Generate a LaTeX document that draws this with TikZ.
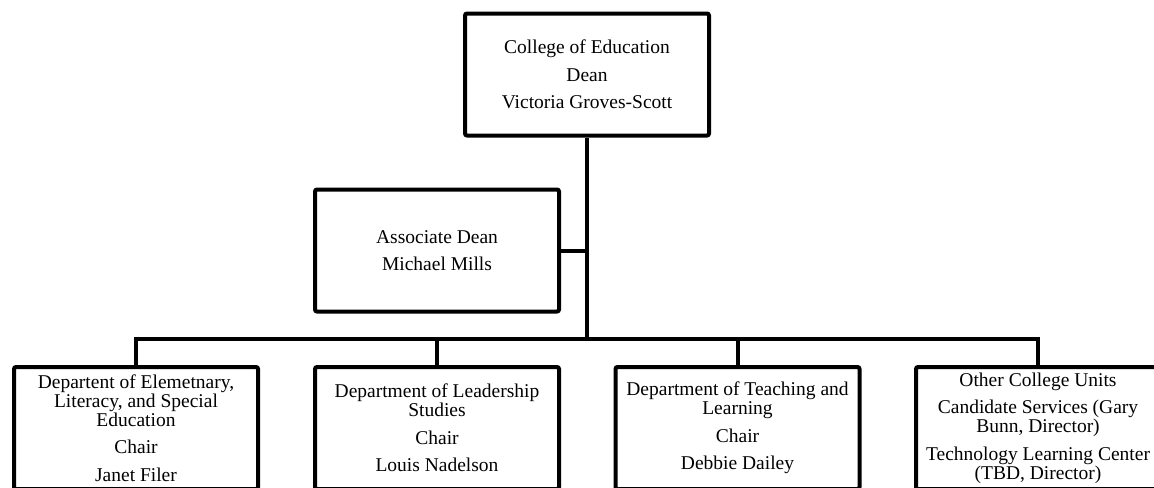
\documentclass[tikz,border=0pt]{standalone}
\usepackage{fontspec}
\setmainfont{Liberation Serif}
\usepackage{tikz}
\usetikzlibrary{positioning}
\tikzset{%
  unit/.style={rectangle, draw, line width=2pt, rounded corners=1pt, align=center,
    minimum width=122pt, minimum height=61pt, inner sep=2pt,
    font=\fontsize{9.75}{9.5}\selectfont},
  connector/.style={draw, line width=2pt}}

\begin{document}
\begin{tikzpicture}[x=0.5pt, y=-0.5pt]
    \useasboundingbox (0, 0) rectangle (1154, 487);
    \clip (0, 0) rectangle (1154, 487);
    % dean and associate dean
    \node [unit] (dean) at (587, 74.5) {College of Education\\[4.25pt] Dean\\[4.25pt] Victoria Groves-Scott};
    \node [unit] (assoc) at (437, 250.5) {Associate Dean\\[4.25pt] Michael Mills};
    % departments and units
    \node [unit] (dept1) at (136, 428) {Departent of Elemetnary,\\ Literacy, and Special\\ Education\\[4.25pt] Chair\\[4.25pt] Janet Filer};
    \node [unit] (dept2) at (437, 428) {Department of Leadership\\ Studies\\[4.25pt] Chair\\[4.25pt] Louis Nadelson};
    \node [unit] (dept3) at (737.5, 428) {Department of Teaching and\\ Learning\\[4.25pt] Chair\\[4.25pt] Debbie Dailey};
    \node [unit] (dept4) at (1038, 428) {Other College Units\\[4.25pt] Candidate Services (Gary\\ Bunn, Director)\\[4.25pt] Technology Learning Center\\ (TBD, Director)};
    \coordinate (bus) at (dean.south |- 0, 339);
    \draw [connector] (dean.south) -- (bus);
    \draw [connector] (assoc.east) -- (assoc.east -| bus);
    \draw [connector] (dept1.north) |- (bus) -| (dept4.north);
    \foreach \i in {2, 3} {
      \draw [connector] (dept\i.north) -- (dept\i.north |- bus);
    }
  \end{tikzpicture}
\end{document}
